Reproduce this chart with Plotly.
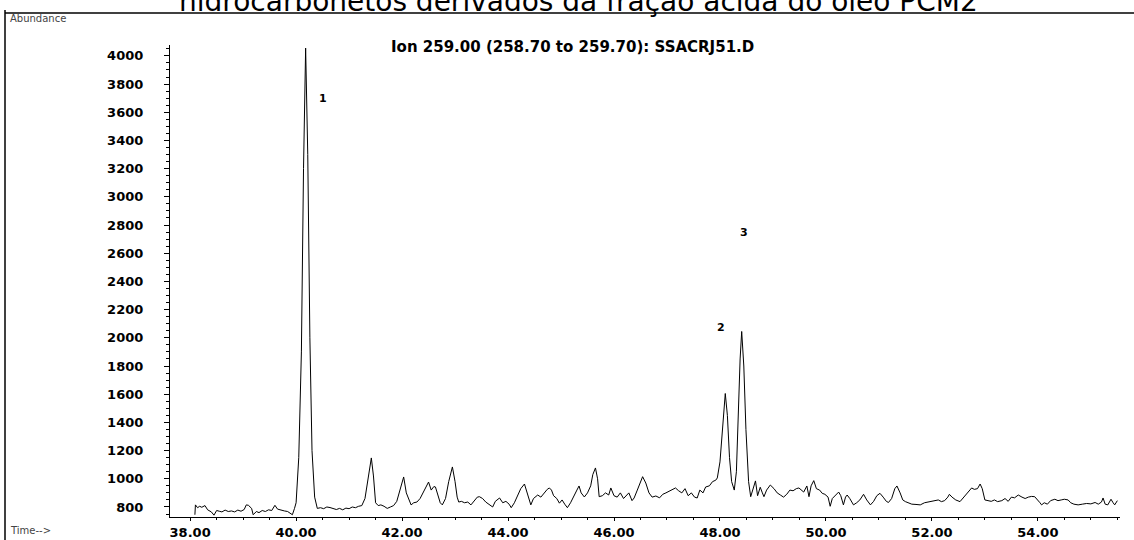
import plotly.graph_objects as go

# Retention time (min) and abundance
time_min = [
    38.09, 38.10, 38.14, 38.18, 38.22, 38.28, 38.33, 38.40, 38.45, 38.50, 38.55, 38.60, 38.66, 38.72,
    38.78, 38.84, 38.90, 38.96, 39.02, 39.06, 39.10, 39.16, 39.19, 39.25, 39.30, 39.36, 39.42, 39.48,
    39.54, 39.60, 39.65, 39.72, 39.78, 39.84, 39.90, 39.93, 39.97, 40.00, 40.05, 40.10, 40.14, 40.18,
    40.22, 40.26, 40.30, 40.35, 40.40, 40.46, 40.52, 40.58, 40.64, 40.70, 40.76, 40.82, 40.88, 40.94,
    41.00, 41.06, 41.12, 41.18, 41.24, 41.30, 41.36, 41.42, 41.46, 41.50, 41.55, 41.60, 41.66, 41.72,
    41.78, 41.84, 41.90, 41.96, 42.03, 42.08, 42.13, 42.17, 42.22, 42.28, 42.34, 42.40, 42.46, 42.50,
    42.55, 42.60, 42.63, 42.68, 42.72, 42.76, 42.82, 42.88, 42.95, 43.00, 43.04, 43.07, 43.12, 43.18,
    43.24, 43.30, 43.36, 43.42, 43.46, 43.52, 43.58, 43.64, 43.71, 43.76, 43.84, 43.90, 43.96, 44.02,
    44.06, 44.12, 44.18, 44.24, 44.31, 44.36, 44.40, 44.43, 44.48, 44.52, 44.56, 44.62, 44.68, 44.74,
    44.78, 44.82, 44.86, 44.92, 44.97, 45.02, 45.07, 45.12, 45.18, 45.24, 45.30, 45.34, 45.38, 45.44,
    45.50, 45.56, 45.60, 45.65, 45.69, 45.72, 45.78, 45.84, 45.90, 45.94, 46.00, 46.06, 46.12, 46.18,
    46.22, 46.28, 46.34, 46.38, 46.44, 46.50, 46.54, 46.60, 46.66, 46.72, 46.79, 46.86, 46.92, 46.98,
    47.04, 47.10, 47.16, 47.22, 47.28, 47.34, 47.40, 47.46, 47.52, 47.57, 47.62, 47.68, 47.73, 47.80,
    47.86, 47.92, 47.95, 48.00, 48.05, 48.10, 48.14, 48.18, 48.22, 48.27, 48.31, 48.34, 48.38, 48.41,
    48.45, 48.49, 48.54, 48.58, 48.62, 48.67, 48.71, 48.76, 48.80, 48.83, 48.88, 48.95, 49.02, 49.08,
    49.14, 49.20, 49.26, 49.32, 49.38, 49.44, 49.49, 49.54, 49.58, 49.64, 49.68, 49.72, 49.77, 49.82,
    49.88, 49.93, 49.98, 50.04, 50.08, 50.12, 50.18, 50.24, 50.28, 50.33, 50.37, 50.40, 50.45, 50.52,
    50.58, 50.64, 50.71, 50.77, 50.84, 50.90, 50.96, 51.02, 51.08, 51.14, 51.18, 51.24, 51.30, 51.34,
    51.40, 51.45, 51.50, 51.56, 51.62, 51.70, 51.78, 51.86, 51.94, 52.00, 52.06, 52.12, 52.18, 52.24,
    52.30, 52.33, 52.38, 52.45, 52.53, 52.60, 52.66, 52.72, 52.75, 52.80, 52.86, 52.91, 52.95, 53.00,
    53.06, 53.12, 53.18, 53.24, 53.32, 53.38, 53.44, 53.50, 53.56, 53.63, 53.70, 53.76, 53.82, 53.88,
    53.94, 54.00, 54.04, 54.07, 54.12, 54.18, 54.24, 54.32, 54.38, 54.44, 54.50, 54.57, 54.62, 54.68,
    54.76, 54.84, 54.92, 55.00, 55.08, 55.14, 55.20, 55.23, 55.27, 55.32, 55.36, 55.38, 55.42, 55.45,
    55.50,
]
abundance = [
    745, 815, 795, 805, 798, 810, 780, 765, 742, 775, 770, 765, 778, 768,
    772, 765, 778, 770, 782, 815, 812, 790, 745, 768, 760, 775, 768, 780,
    775, 812, 785, 775, 772, 768, 750, 745, 790, 830, 1150, 1900, 3200, 4055,
    3300, 2000, 1200, 870, 790, 795, 788, 800, 796, 790, 782, 790, 780, 792,
    788, 800, 795, 805, 810, 860, 1000, 1148, 1020, 830, 810, 815, 805, 790,
    800, 810, 840, 920, 1013, 900, 850, 815, 830, 835, 860, 900, 950, 977,
    920, 945, 942, 880, 830, 815, 860, 980, 1084, 980, 870, 835, 840, 830,
    835, 815, 840, 870, 873, 860, 835, 820, 800, 840, 864, 830, 840, 820,
    795, 830, 880, 930, 963, 900, 850, 815, 860, 870, 885, 870, 900, 925,
    935, 920, 880, 860, 827, 850, 820, 795, 830, 880, 920, 949, 900, 871,
    900, 950, 1030, 1077, 1000, 873, 880, 900, 885, 935, 880, 870, 900, 860,
    878, 900, 845, 864, 920, 985, 1015, 970, 900, 870, 878, 865, 890, 900,
    910, 925, 935, 915, 900, 930, 880, 900, 870, 864, 920, 900, 942, 950,
    980, 990, 1006, 1120, 1380, 1605, 1450, 1150, 980, 920, 1050, 1400, 1850, 2045,
    1800, 1350, 980, 873, 920, 985, 880, 940, 900, 873, 920, 956, 930, 900,
    885, 870, 890, 920, 915, 930, 935, 920, 906, 949, 873, 950, 987, 930,
    920, 897, 890, 870, 805, 860, 880, 906, 880, 815, 870, 885, 860, 815,
    830, 850, 890, 850, 815, 840, 880, 897, 870, 840, 832, 860, 930, 949,
    900, 850, 838, 830, 820, 818, 815, 830, 835, 840, 845, 850, 838, 845,
    870, 890, 870, 850, 838, 870, 900, 920, 935, 925, 930, 963, 930, 850,
    845, 840, 850, 838, 845, 860, 840, 870, 865, 885, 870, 860, 870, 875,
    873, 850, 830, 815, 830, 820, 845, 855, 845, 850, 855, 850, 830, 820,
    815, 820, 825, 822, 832, 820, 835, 864, 820, 815, 850, 855, 830, 815,
    845,
]

# Peak labels
peak_labels = ["1", "2", "3"]
peak_label_time = [40.50, 48.02, 48.45]
peak_label_abund = [3700, 2070, 2745]

y_tickvals = [800, 1000, 1200, 1400, 1600, 1800, 2000, 2200, 2400, 2600, 2800,
              3000, 3200, 3400, 3600, 3800, 4000]
x_tickvals = [38, 40, 42, 44, 46, 48, 50, 52, 54]

title_text = "hidrocarbonetos derivados da fração ácida do óleo PCM2"
header_text = "Ion 259.00 (258.70 to 259.70): SSACRJ51.D"

W, H = 1134, 540
L, R, T, B = 170, 14, 45, 23
pw, ph = W - L - R, H - T - B


def px(xp):
    return (xp - L) / pw


def py(yp):
    return (H - B - yp) / ph


fig = go.Figure()
fig.add_trace(go.Scatter(
    x=time_min, y=abundance, mode="lines",
    line=dict(color="black", width=1), hoverinfo="skip", showlegend=False,
))

for lab, t, a in zip(peak_labels, peak_label_time, peak_label_abund):
    fig.add_annotation(x=t, y=a, text=lab, showarrow=False, xref="x", yref="y",
                       font=dict(family="DejaVu Sans", size=11, color="black", weight="bold"))

fig.add_annotation(x=px(578), y=py(2), xref="paper", yref="paper", text=title_text,
                   showarrow=False, xanchor="center", yanchor="middle",
                   font=dict(family="DejaVu Sans", size=28, color="black"))
fig.add_annotation(x=px(572), y=py(47), xref="paper", yref="paper", text=header_text,
                   showarrow=False, xanchor="center", yanchor="middle",
                   font=dict(family="DejaVu Sans", size=15, color="black", weight="bold"))
fig.add_annotation(x=px(8), y=py(18), xref="paper", yref="paper", text="Abundance",
                   showarrow=False, xanchor="left", yanchor="middle",
                   font=dict(family="DejaVu Sans", size=10, color="#444"))
fig.add_annotation(x=px(8), y=py(530), xref="paper", yref="paper", text="Time-->",
                   showarrow=False, xanchor="left", yanchor="middle",
                   font=dict(family="DejaVu Sans", size=10, color="#444"))

# scanned page frame
fig.add_shape(type="line", xref="paper", yref="paper", x0=px(5), x1=px(5), y0=py(10), y1=py(545),
              line=dict(color="black", width=1.5))
fig.add_shape(type="line", xref="paper", yref="paper", x0=px(5), x1=px(1140), y0=py(13), y1=py(13),
              line=dict(color="black", width=1.5))

fig.update_layout(
    width=W, height=H,
    margin=dict(l=L, r=R, t=T, b=B, autoexpand=False),
    paper_bgcolor="white", plot_bgcolor="white",
    showlegend=False,
    xaxis=dict(
        range=[37.62, 55.55], tickvals=x_tickvals, tickformat=".2f",
        showgrid=False, zeroline=False, showline=True, linecolor="black", linewidth=1,
        ticks="outside", ticklen=3, tickcolor="black",
        tickfont=dict(family="DejaVu Sans", size=13, color="black", weight="bold"),
        ticklabelstandoff=0,
        minor=dict(dtick=0.5, ticks="outside", ticklen=2, tickcolor="black"),
        automargin=False,
    ),
    yaxis=dict(
        range=[729, 4077], tickvals=y_tickvals,
        showgrid=False, zeroline=False, showline=True, linecolor="black", linewidth=1.2,
        ticks="outside", ticklen=5, tickcolor="black",
        tickfont=dict(family="DejaVu Sans", size=13, color="black", weight="bold"),
        ticklabelstandoff=18,
        minor=dict(dtick=50, ticks="outside", ticklen=3, tickcolor="black"),
        automargin=False,
    ),
)

fig.write_html(
    "out.html",
    config={"displayModeBar": False},
    post_script="document.body.style.margin='0';document.body.style.overflow='hidden';",
)
